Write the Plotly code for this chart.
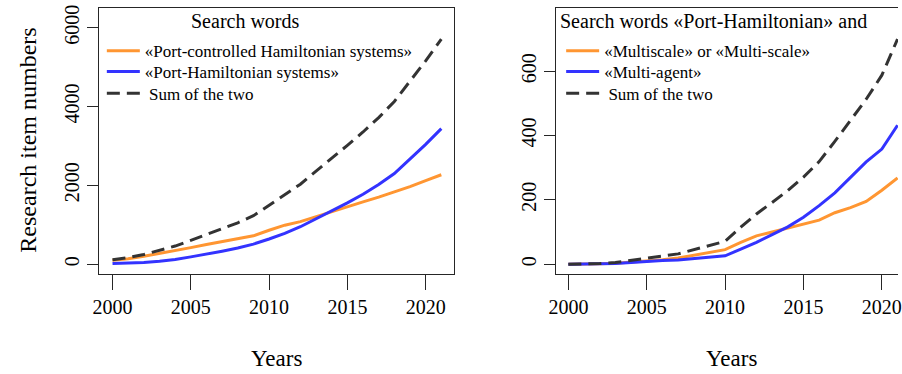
import plotly.graph_objects as go

# ---- data -------------------------------------------------------------
years = list(range(2000, 2022))

# left panel: search words
port_controlled = [100, 140, 200, 270, 340, 420, 500, 570, 640, 720, 860, 990,
                   1080, 1210, 1340, 1460, 1580, 1700, 1830, 1970, 2120, 2270]
port_hamiltonian = [15, 25, 45, 75, 120, 185, 250, 330, 410, 510, 640, 780,
                    950, 1150, 1340, 1555, 1775, 2020, 2300, 2660, 3040, 3440]
sum_left = [115, 165, 245, 345, 460, 605, 750, 900, 1050, 1230, 1500, 1770,
            2030, 2360, 2680, 3015, 3355, 3720, 4130, 4630, 5160, 5710]

# right panel: «Port-Hamiltonian» combined with further words
multiscale = [0, 0, 1, 3, 6, 10, 14, 19, 28, 38, 45, 68,
              88, 100, 113, 125, 137, 160, 176, 195, 230, 268]
multiagent = [0, 0, 1, 2, 5, 9, 11, 13, 17, 21, 26, 47,
              68, 92, 116, 146, 182, 222, 270, 318, 358, 432]
sum_right = [0, 0, 2, 5, 11, 19, 25, 32, 45, 59, 71, 115,
             156, 192, 229, 271, 319, 382, 446, 513, 588, 700]

names_left = ["«Port-controlled Hamiltonian systems»", "«Port-Hamiltonian systems»",
              "\u00a0Sum of the two"]
names_right = ["«Multiscale» or «Multi-scale»", "«Multi-agent»", "\u00a0Sum of the two"]
x_ticks = [2000, 2005, 2010, 2015, 2020]
y_ticks_left = [0, 2000, 4000, 6000]
y_ticks_right = [0, 200, 400, 600]

# ---- styling ----------------------------------------------------------
W, H = 902, 374
SERIF = "Liberation Serif"
ORANGE = "rgb(255,150,50)"
BLUE = "rgb(51,51,255)"
DARK = "rgb(51,51,51)"
AXIS = "#262626"
LW = 3
DASH = "13px,7px"


def px_x(p):
    return p / W


def px_y(p):
    return (H - p) / H


fig = go.Figure()

series_left = [(port_controlled, ORANGE, "solid"), (port_hamiltonian, BLUE, "solid"),
               (sum_left, DARK, DASH)]
series_right = [(multiscale, ORANGE, "solid"), (multiagent, BLUE, "solid"),
                (sum_right, DARK, DASH)]

legend_ids_left = ["legend", "legend2", "legend3"]
legend_ids_right = ["legend4", "legend5", "legend6"]

for (vals, col, dash), name, lg in zip(series_left, names_left, legend_ids_left):
    fig.add_trace(go.Scatter(x=years, y=vals, mode="lines", name=name,
                             line=dict(color=col, width=LW, dash=dash),
                             xaxis="x", yaxis="y", legend=lg))
for (vals, col, dash), name, lg in zip(series_right, names_right, legend_ids_right):
    fig.add_trace(go.Scatter(x=years, y=vals, mode="lines", name=name,
                             line=dict(color=col, width=LW, dash=dash),
                             xaxis="x2", yaxis="y2", legend=lg))

# one single-entry legend per row, so rows sit where they should
row_y = [48.5, 69.5, 91.5]
legend_common = dict(xanchor="left", yanchor="middle", bgcolor="rgba(0,0,0,0)",
                     borderwidth=0, itemwidth=33,
                     font=dict(family=SERIF, size=17, color="black"))
legends = {}
for lg, ry in zip(legend_ids_left, row_y):
    legends[lg] = dict(x=px_x(96), y=px_y(ry), **legend_common)
for lg, ry in zip(legend_ids_right, row_y):
    legends[lg] = dict(x=px_x(561), y=px_y(ry), **legend_common)

axis_font = dict(family=SERIF, size=20, color="black")

xcommon = dict(showgrid=False, zeroline=False, showline=True, linecolor=AXIS,
               linewidth=1, mirror=True, ticks="outside", ticklen=15, tickwidth=1,
               tickcolor=AXIS, tickvals=x_ticks, tickfont=axis_font,
               ticklabeloverflow="allow")
ycommon = dict(showgrid=False, zeroline=False, showline=True, linecolor=AXIS,
               linewidth=1, ticks="outside", ticklen=11, tickwidth=1,
               tickcolor=AXIS, tickangle=-90, tickfont=axis_font)

fig.update_layout(
    width=W, height=H,
    margin=dict(l=0, r=0, t=0, b=0),
    paper_bgcolor="white", plot_bgcolor="white",
    font=dict(family=SERIF, color="black"),
    showlegend=True,
    xaxis=dict(domain=[px_x(93.5), px_x(453)], range=[1999.16, 2021.84],
               anchor="y", **xcommon),
    yaxis=dict(domain=[px_y(273.3), px_y(4.7)], range=[-252, 6510],
               anchor="x", mirror=True, tickvals=y_ticks_left, **ycommon),
    xaxis2=dict(domain=[px_x(555.3), 1.0], range=[1999.18, 2021.03],
                anchor="y2", **xcommon),
    yaxis2=dict(domain=[px_y(273.3), px_y(4.7)], range=[-31, 798],
                anchor="x2", mirror=False, tickvals=y_ticks_right, **ycommon),
    **legends,
)

title_font = dict(family=SERIF, size=20, color="black")
label_font = dict(family=SERIF, size=23, color="black")

fig.add_annotation(text="Search words", xref="paper", yref="paper",
                   x=px_x(241.7), y=px_y(18.5), xanchor="center", yanchor="middle",
                   showarrow=False, font=title_font)
fig.add_annotation(text="Search words «Port-Hamiltonian» and", xref="paper", yref="paper",
                   x=px_x(558), y=px_y(18.5), xanchor="left", yanchor="middle",
                   showarrow=False, font=title_font)
fig.add_annotation(text="Years", xref="x", yref="paper", x=2010.5, y=px_y(358),
                   xanchor="center", yanchor="middle", showarrow=False, font=label_font)
fig.add_annotation(text="Years", xref="x2", yref="paper", x=2010.4, y=px_y(358),
                   xanchor="center", yanchor="middle", showarrow=False, font=label_font)
fig.add_annotation(text="Research item numbers", xref="paper", yref="paper",
                   x=px_x(21), y=px_y(138), textangle=-90, xanchor="center",
                   yanchor="middle", showarrow=False,
                   font=dict(family=SERIF, size=24, color="black"))

fig.write_html("out.html")
